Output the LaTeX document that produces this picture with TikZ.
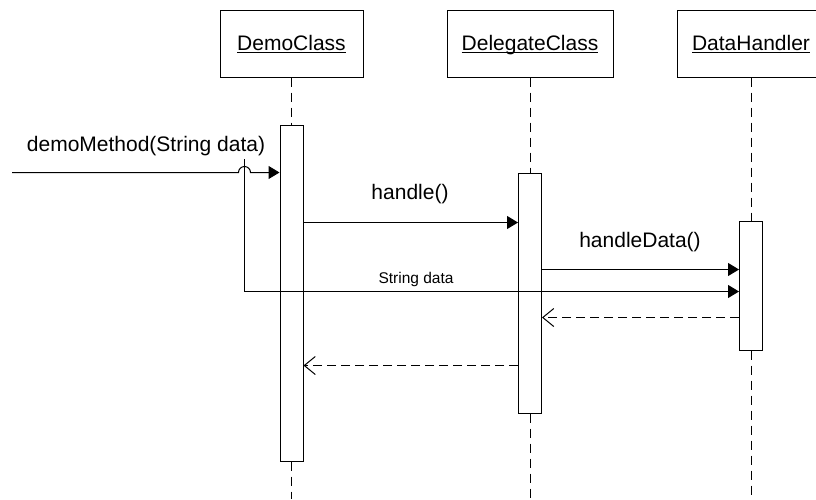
\documentclass[tikz,border=0pt]{standalone}
\usepackage{fontspec}
\setmainfont{Liberation Sans}
\usetikzlibrary{arrows.meta,calc}

% underlined object name with a rule just below the baseline
\newcommand\objname[1]{\setbox0\hbox{#1}\rlap{\smash{\rule[-2.6pt]{\wd0}{0.9pt}}}\box0}

\tikzset{
  every picture/.style={line width=1pt},
  objbox/.style={draw, rectangle, minimum height=67pt, inner sep=0pt,
                 text height=14pt, text depth=0pt, font=\fontsize{21}{24}\selectfont},
  actbar/.style={draw, fill=white, rectangle, minimum width=23pt, inner sep=0pt},
  lifeline/.style={dash pattern=on 9pt off 6pt},
  callmsg/.style={-{Triangle[length=11pt,width=13pt]}},
  retmsg/.style={dash pattern=on 9pt off 5pt, -{Straight Barb[length=11pt,width=18pt]}},
  msglabel/.style={inner sep=0pt, anchor=base, font=\fontsize{21}{24}\selectfont},
  smalllabel/.style={inner sep=0pt, anchor=base, font=\fontsize{15.5}{18}\selectfont},
}

\begin{document}
\begin{tikzpicture}[x=1pt,y=-1pt]
  \useasboundingbox (0,0) rectangle (816,499);
  \begin{scope}
  \clip (0,0) rectangle (816,499);

  % object headers
  \node[objbox, minimum width=143pt] (demo) at (291.5,43.5) {\objname{DemoClass}};
  \node[objbox, minimum width=166pt] (deleg) at (530,43.5) {\objname{DelegateClass}};
  \node[objbox, minimum width=148pt] (data) at (751,43.5) {\objname{DataHandler}};

  % activation bars
  \node[actbar, minimum height=336pt] (demoAct) at (291.5,293) {};
  \node[actbar, minimum height=240pt] (delegAct) at (530,293) {};
  \node[actbar, minimum height=129pt] (dataAct) at (751,285.5) {};

  % lifelines
  \coordinate (demoEnd) at (291.5,499);
  \coordinate (delegEnd) at (530,499);
  \coordinate (dataEnd) at (751,499);
  \draw[lifeline] (demo.south) -- (demoAct.north);
  \draw[lifeline] (demoAct.south) -- (demoEnd);
  \draw[lifeline] (deleg.south) -- (delegAct.north);
  \draw[lifeline] (delegAct.south) -- (delegEnd);
  \draw[lifeline] (data.south) -- (dataAct.north);
  \draw[lifeline] (dataAct.south) -- (dataEnd);

  % incoming call, hopping over the data line
  \coordinate (caller) at (12,172.5);
  \coordinate (hopL) at (238.5,172.5);
  \coordinate (hopR) at (250.5,172.5);
  \draw[callmsg] (caller) -- (hopL) arc[start angle=180, end angle=0, radius=6pt]
        -- (hopR -| demoAct.west);
  \node[msglabel] (lblDemo) at (146,151) {demoMethod(String data)};

  % data passed straight through to the handler
  \coordinate (dataSrc) at (244.5,159);
  \coordinate (dataBend) at (244.5,291.5);
  \draw[callmsg] (dataSrc) -- (dataBend) -- (dataBend -| dataAct.west);
  \node[smalllabel] (lblData) at (416,283) {String data};

  % handle()
  \coordinate (h1) at (0,222.5);
  \draw[callmsg] (h1 -| demoAct.east) -- (h1 -| delegAct.west);
  \node[msglabel] (lblHandle) at (410,199) {handle()};

  % handleData()
  \coordinate (h2) at (0,269.5);
  \draw[callmsg] (h2 -| delegAct.east) -- (h2 -| dataAct.west);
  \node[msglabel] (lblHandleData) at (640,247) {handleData()};

  % returns
  \coordinate (r1) at (0,317.5);
  \draw[retmsg] (r1 -| dataAct.west) -- (r1 -| delegAct.east);
  \coordinate (r2) at (0,365.5);
  \draw[retmsg] (r2 -| delegAct.west) -- (r2 -| demoAct.east);
  \end{scope}
\end{tikzpicture}
\end{document}
